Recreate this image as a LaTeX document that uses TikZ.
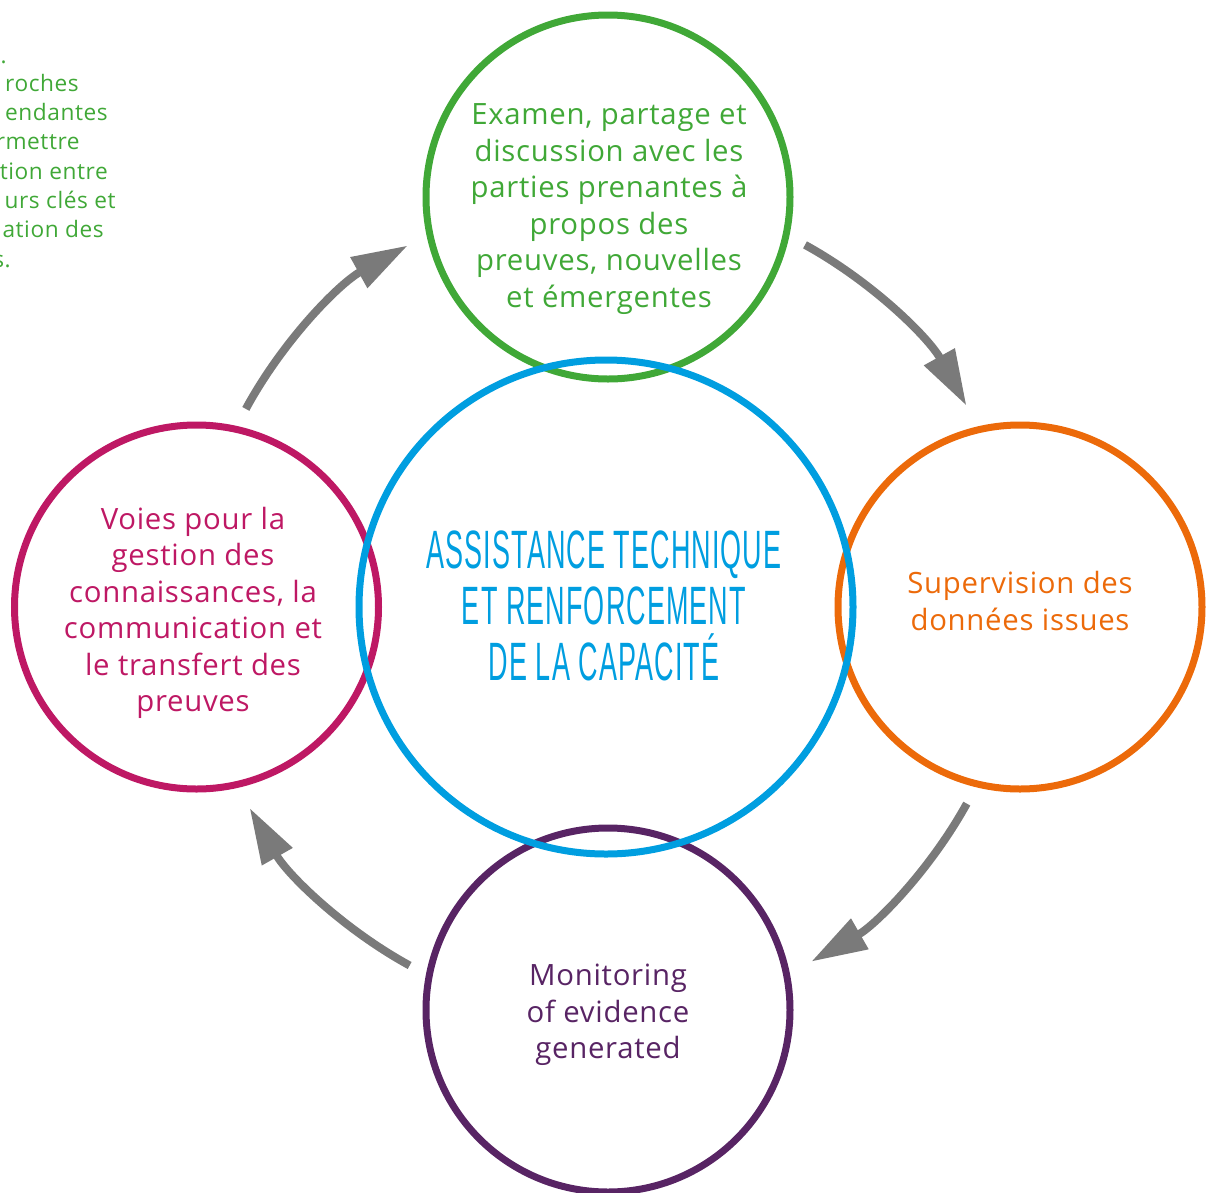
\documentclass[tikz,border=0pt]{standalone}
\usepackage{fontspec}
\setmainfont{Open Sans}[LetterSpace=2.5]
\newfontfamily\condfont{Liberation Sans}[FakeStretch=0.5,LetterSpace=2]
\usetikzlibrary{arrows.meta}
\definecolor{cgreen}{RGB}{64,168,55}
\definecolor{cblue}{RGB}{0,158,224}
\definecolor{corange}{RGB}{236,106,10}
\definecolor{cmag}{RGB}{190,24,100}
\definecolor{cpurple}{RGB}{88,36,100}
\definecolor{cgray}{RGB}{122,122,122}
\begin{document}
\begin{tikzpicture}[x=0.75pt,y=-0.75pt,
  ring/.style={circle, draw, line width=5.25pt, minimum size=273pt, inner sep=0pt},
  bigring/.style={ring, draw=cblue, minimum size=370.5pt},
  cyc/.style={draw=cgray, line width=6pt, -{Triangle[length=42pt,width=25pt]}},
  ctext/.style={align=center, inner sep=0pt, font=\fontsize{22}{27.4}\selectfont},
  frag/.style={anchor=base east, inner sep=0pt, text=cgreen, font=\fontsize{17}{22}\selectfont}]
\useasboundingbox (0,0) rectangle (1211,1193);
% outer circles
\node[ring, draw=cgreen] (g) at (608,197) {};
\node[ring, draw=corange] (o) at (1020,607) {};
\node[ring, draw=cmag] (m) at (196.5,607) {};
\node[ring, draw=cpurple] (p) at (608,1010) {};
% central circle on top
\node[bigring] (b) at (606,607) {};
% texts
\node[ctext, text=cgreen] (gt) at (609,209) {Examen, partage et\\discussion avec les\\parties prenantes à\\propos des\\preuves, nouvelles\\et émergentes};
\node[ctext, text=corange] (ot) at (1020,601) {Supervision des\\données issues};
\node[ctext, text=cmag] (mt) at (193,613) {Voies pour la\\gestion des\\connaissances, la\\communication et\\le transfert des\\preuves};
\node[ctext, text=cpurple] (pt) at (608,1015) {Monitoring\\of evidence\\generated};
\node[text=cblue, align=center, inner sep=0pt, font=\condfont\fontsize{40.5}{42}\selectfont] (ct) at (604,606) {ASSISTANCE TECHNIQUE\\ET RENFORCEMENT\\DE LA CAPACITÉ};
% cycle arrows
\coordinate (c) at (607,605);
\path (c) ++(-151.5:411) coordinate (a1);
\path (c) ++(-61.2:411) coordinate (a2);
\path (c) ++(28.9:411) coordinate (a3);
\path (c) ++(118.7:411) coordinate (a4);
\draw[cyc] (a1) arc[start angle=-151.5, end angle=-119, radius=411];
\draw[cyc] (a2) arc[start angle=-61.2, end angle=-29, radius=411];
\draw[cyc] (a3) arc[start angle=28.9, end angle=60.2, radius=411];
\draw[cyc] (a4) arc[start angle=118.7, end angle=150.4, radius=411];
% clipped side text fragments
\node[frag] (f0) at (7,63) {.};
\node[frag] (f1) at (79,91) {roches};
\node[frag] (f2) at (108,120) {endantes};
\node[frag] (f3) at (80,149) {rmettre};
\node[frag] (f4) at (108,179) {tion entre};
\node[frag] (f5) at (116,208) {urs clés et};
\node[frag] (f6) at (104,237) {ation des};
\node[frag] (f7) at (11,267) {s.};
\end{tikzpicture}
\end{document}
